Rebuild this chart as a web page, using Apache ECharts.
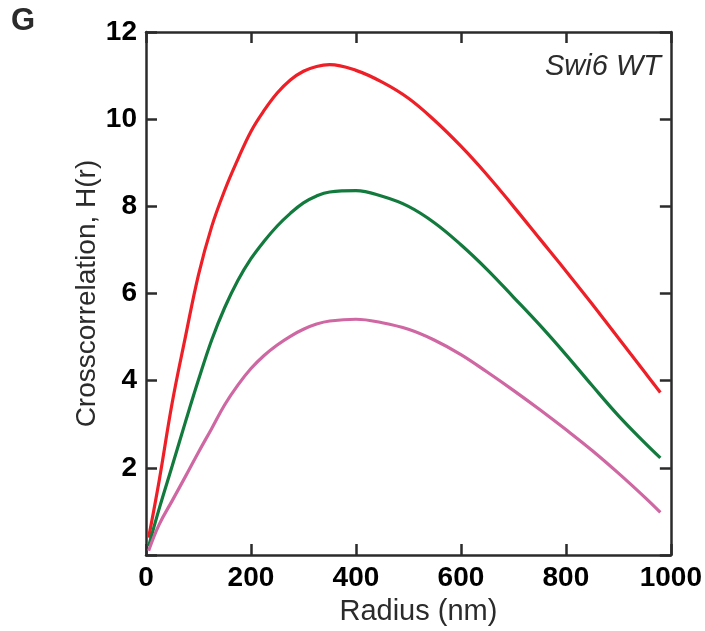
<!DOCTYPE html>
<html>
<head>
<meta charset="utf-8">
<script src="https://cdn.jsdelivr.net/npm/echarts@6/dist/echarts.min.js"></script>
<style>
html,body{margin:0;padding:0;background:#fff;}
#chart{width:705px;height:631px;}
</style>
</head>
<body>
<div id="chart"></div>
<script>
var radius = [5, 25, 50, 75, 100, 125, 150, 175, 200, 225, 250, 275, 300, 325, 350, 400, 450, 500, 550, 600, 650, 700, 750, 800, 850, 900, 950, 980];
var redValues = [0.4, 1.7, 3.5, 5.0, 6.43, 7.53, 8.37, 9.08, 9.72, 10.2, 10.6, 10.9, 11.1, 11.21, 11.25, 11.12, 10.85, 10.48, 9.97, 9.38, 8.72, 8.0, 7.26, 6.52, 5.76, 4.98, 4.2, 3.73];
var greenValues = [0.2, 1.06, 2.05, 3.05, 4.02, 4.93, 5.68, 6.3, 6.8, 7.2, 7.55, 7.84, 8.08, 8.24, 8.33, 8.36, 8.23, 8.0, 7.62, 7.12, 6.55, 5.92, 5.28, 4.6, 3.89, 3.2, 2.58, 2.23];
var pinkValues = [0.1, 0.7, 1.25, 1.8, 2.36, 2.9, 3.45, 3.9, 4.28, 4.58, 4.82, 5.02, 5.18, 5.3, 5.37, 5.41, 5.33, 5.18, 4.93, 4.6, 4.2, 3.78, 3.34, 2.88, 2.4, 1.88, 1.33, 0.98];
var xTickLabels = [0, 200, 400, 600, 800, 1000];
var yTickLabels = [2, 4, 6, 8, 10, 12];
var xTitle = 'Radius (nm)';
var yTitle = 'Crosscorrelation, H(r)';
var panelLabel = 'G';
var annotation = 'Swi6 WT';

function pairs(xs, ys) { return xs.map(function (x, i) { return [x, ys[i]]; }); }

var axisColor = '#2b2b2b';
var font = 'Liberation Sans, Arial, sans-serif';
var xMin = xTickLabels[0], xMax = xTickLabels[xTickLabels.length - 1];
var xInt = xTickLabels[1] - xTickLabels[0];
var yInt = yTickLabels[1] - yTickLabels[0];
var yMin = 0, yMax = yTickLabels[yTickLabels.length - 1];

var chart = echarts.init(document.getElementById('chart'), null, {renderer: 'canvas'});
var lineBase = {
  type: 'line', showSymbol: false, smooth: 0.4, animation: false
};
var tickStyle = {inside: true, length: 11, lineStyle: {color: axisColor, width: 2.5}};
var lineStyleAxis = {onZero: false, show: true, lineStyle: {color: axisColor, width: 2.5}};
chart.setOption({
  backgroundColor: '#ffffff',
  animation: false,
  grid: {left: 146, right: 32, top: 32, bottom: 71, containLabel: false},
  xAxis: [{
    type: 'value', min: xMin, max: xMax, interval: xInt, position: 'bottom',
    name: xTitle, nameLocation: 'middle', nameGap: 37,
    nameTextStyle: {fontFamily: font, fontSize: 29, color: '#2b2b2b', padding: [0, 0, 0, 20]},
    axisLine: lineStyleAxis,
    axisTick: tickStyle,
    axisLabel: {margin: 9, fontFamily: font, fontWeight: 'bold', fontSize: 28, color: '#000',
      formatter: function (v) { return xTickLabels.indexOf(v) >= 0 ? String(v) : ''; }},
    splitLine: {show: false}
  }, {
    type: 'value', min: xMin, max: xMax, interval: xInt, position: 'top',
    axisLine: lineStyleAxis,
    axisTick: tickStyle,
    axisLabel: {show: false}, splitLine: {show: false}
  }],
  yAxis: [{
    type: 'value', min: yMin, max: yMax, interval: yInt, position: 'left',
    name: yTitle, nameLocation: 'middle', nameGap: 45, nameRotate: 90, nameMoveOverlap: false,
    nameTextStyle: {fontFamily: font, fontSize: 28, color: '#2b2b2b'},
    axisLine: lineStyleAxis,
    axisTick: tickStyle,
    axisLabel: {margin: 9, fontFamily: font, fontWeight: 'bold', fontSize: 28, color: '#000',
      formatter: function (v) { return yTickLabels.indexOf(v) >= 0 ? String(v) : ''; }},
    splitLine: {show: false}
  }, {
    type: 'value', min: yMin, max: yMax, interval: yInt, position: 'right',
    axisLine: lineStyleAxis,
    axisTick: tickStyle,
    axisLabel: {show: false}, splitLine: {show: false}
  }],
  graphic: [{
    type: 'text', left: 11, top: 6,
    style: {text: panelLabel, fontFamily: font, fontWeight: 'bold', fontSize: 31, fill: '#2b2b2b'}
  }, {
    type: 'text', right: 44, top: 52,
    style: {text: annotation, fontFamily: font, fontStyle: 'italic', fontSize: 29, fill: '#2b2b2b'}
  }],
  series: [
    Object.assign({}, lineBase, {name: 'red', data: pairs(radius, redValues), lineStyle: {width: 3.2, color: '#ee1f26'}, itemStyle: {color: '#ee1f26'}}),
    Object.assign({}, lineBase, {name: 'green', data: pairs(radius, greenValues), lineStyle: {width: 3.2, color: '#127a3c'}, itemStyle: {color: '#127a3c'}}),
    Object.assign({}, lineBase, {name: 'pink', data: pairs(radius, pinkValues), lineStyle: {width: 3.2, color: '#cf67a3'}, itemStyle: {color: '#cf67a3'}})
  ]
});
</script>
</body>
</html>
